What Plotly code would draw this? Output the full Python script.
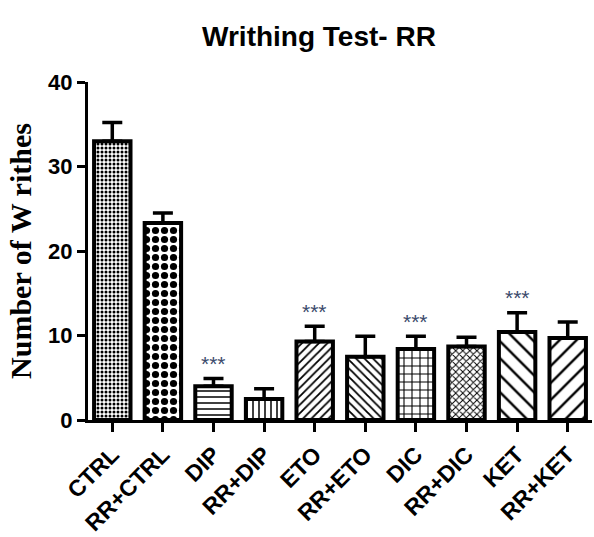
import plotly.graph_objects as go

categories = ["CTRL", "RR+CTRL", "DIP", "RR+DIP", "ETO", "RR+ETO", "DIC", "RR+DIC", "KET", "RR+KET"]
means = [33.0, 23.3, 4.0, 2.5, 9.3, 7.5, 8.4, 8.7, 10.4, 9.7]
sems = [2.2, 1.2, 0.9, 1.2, 1.8, 2.4, 1.5, 1.1, 2.3, 1.9]
significance = ["", "", "***", "", "***", "", "***", "", "***", ""]
y_ticks = [0, 10, 20, 30, 40]

patterns = [".", ".", "-", "|", "/", "\\", "+", "x", "\\", "/"]
pattern_sizes = [4, 9, 6, 6, 6, 6, 8, 5, 12, 12]
pattern_solid = [0.45, 0.5, 0.25, 0.25, 0.3, 0.3, 0.25, 0.35, 0.2, 0.2]

fig = go.Figure()
fig.add_trace(go.Bar(
    x=categories, y=means, width=0.72,
    marker=dict(color="white", line=dict(color="black", width=4),
                pattern=dict(shape=patterns, size=pattern_sizes, solidity=pattern_solid,
                             fgcolor="black", bgcolor="white", fillmode="replace")),
    error_y=dict(type="data", array=sems, arrayminus=[0]*len(sems), symmetric=False,
                 color="black", thickness=3.5, width=10),
    showlegend=False,
))

for c, m, s, sig in zip(categories, means, sems, significance):
    if sig:
        fig.add_annotation(x=c, y=m + s, text=sig, showarrow=False, yanchor="middle", yshift=15,
                           font=dict(family="Arial", size=21, color="#3b4a6b"))

fig.update_layout(
    width=594, height=537,
    margin=dict(l=88, r=2, t=82, b=117),
    paper_bgcolor="white", plot_bgcolor="white",
    title=dict(text="<b>Writhing Test- RR</b>", x=0.537, xanchor="center", y=0.933, yanchor="middle",
               font=dict(family="Arial", size=28, color="black")),
)
fig.update_xaxes(
    range=[-0.48, 9.48], showline=True, linecolor="black", linewidth=3, automargin=False,
    ticks="outside", ticklen=9, tickwidth=3, tickcolor="black", tickangle=-45,
    tickfont=dict(family="Arial", size=23, color="black", weight="bold"), showgrid=False,
)
fig.update_yaxes(
    range=[0, 40], tickvals=y_ticks, showline=True, linecolor="black", linewidth=3, automargin=False,
    ticks="outside", ticklen=8, tickwidth=3, tickcolor="black",
    tickfont=dict(family="Arial", size=22, color="black", weight="bold"), showgrid=False, zeroline=False,
    title=dict(text="<b>Number of W rithes</b>", font=dict(family="Liberation Serif, Times New Roman", size=30, color="black"), standoff=8),
)
fig.write_html("out.html", config={"displayModeBar": False},
               post_script="document.body.style.margin='0';document.body.style.overflow='hidden';")
